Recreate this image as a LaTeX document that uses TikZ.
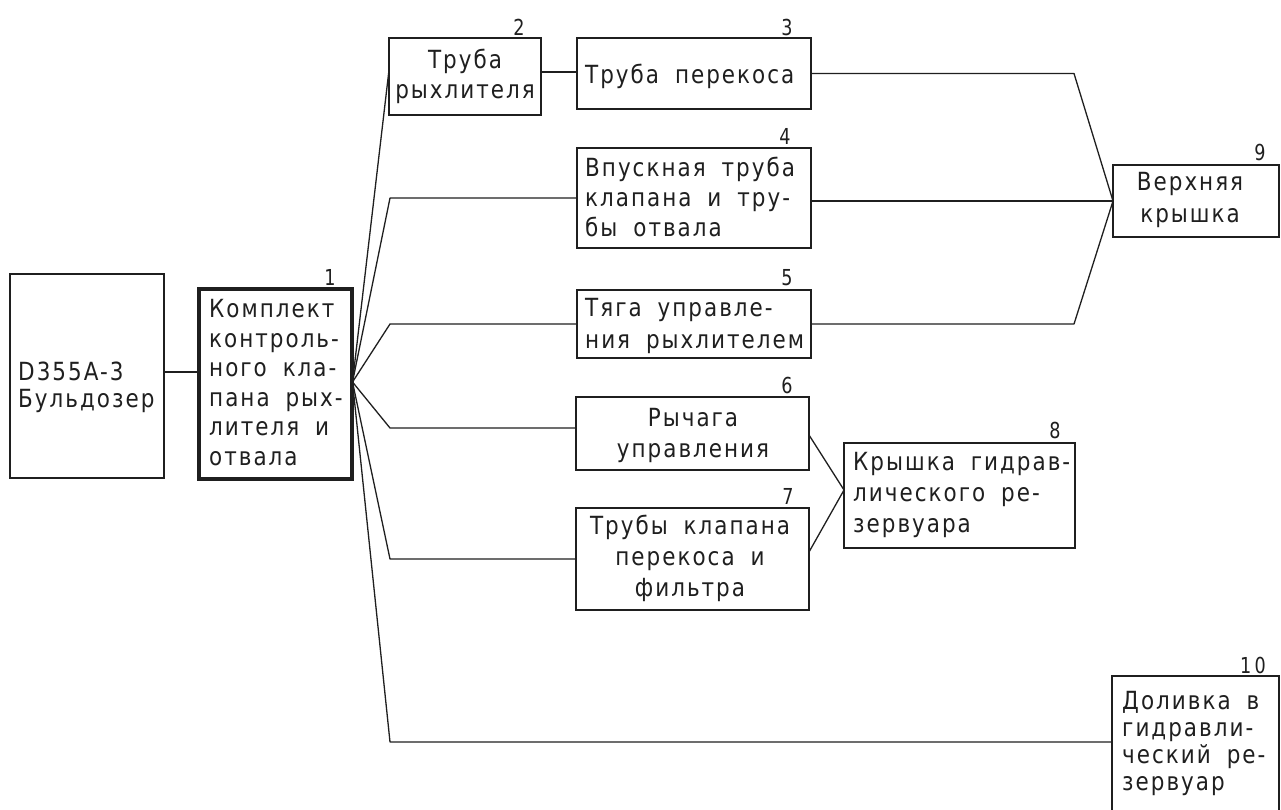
\documentclass[tikz,border=0pt]{standalone}
\usepackage{fontspec}
\setmainfont{DejaVu Sans}[FakeStretch=0.86,LetterSpace=8,WordSpace=1.8]
\newfontfamily\numfont{DejaVu Sans}[FakeStretch=0.8,LetterSpace=15]
\definecolor{ink}{gray}{0.12}
\begin{document}
\begin{tikzpicture}[x=1pt,y=-1pt,
  box/.style={draw=ink,line width=1.8pt,inner sep=0pt,outer sep=0pt},
  thickbox/.style={box,line width=3.2pt},
  conn/.style={draw=ink,line width=1.3pt,line join=round},
  txt/.style={inner sep=0pt,text=ink},
  num/.style={inner sep=0pt,text=ink,font=\numfont\fontsize{22}{22}\selectfont}]
\useasboundingbox (0,0) rectangle (1281,809);
\clip (0,0) rectangle (1281,809);
\fill[white] (0,0) rectangle (1281,809);

% boxes
\node[box,minimum width=154pt,minimum height=204pt] (b0) at (87,376) {};
\node[thickbox,minimum width=153pt,minimum height=190pt] (b1) at (275.5,384) {};
\node[box,minimum width=152pt,minimum height=77pt] (b2) at (465,76.5) {};
\node[box,minimum width=234pt,minimum height=71pt] (b3) at (694,73.5) {};
\node[box,minimum width=234pt,minimum height=100pt] (b4) at (694,198) {};
\node[box,minimum width=234pt,minimum height=68pt] (b5) at (694,324) {};
\node[box,minimum width=233pt,minimum height=73pt] (b6) at (692.5,433.5) {};
\node[box,minimum width=233pt,minimum height=102pt] (b7) at (692.5,559) {};
\node[box,minimum width=231pt,minimum height=105pt] (b8) at (959.5,495.5) {};
\node[box,minimum width=166pt,minimum height=72pt] (b9) at (1196,201) {};
\node[box,minimum width=167pt,minimum height=154pt] (b10) at (1195.5,753) {};

% texts
\node[txt,anchor=north west,align=left,font=\fontsize{25}{27}\selectfont] (t0) at (18,362) {D355A-3\\Бульдозер};
\node[txt,anchor=north west,align=left,font=\fontsize{25}{29.6}\selectfont] (t1) at (209,299) {Комплект\\контроль-\\ного кла-\\пана рых-\\лителя и\\отвала};
\node[txt,anchor=north,align=center,font=\fontsize{25}{30}\selectfont] (t2) at (465,49) {Труба\\рыхлителя};
\node[txt,anchor=north west,align=left,font=\fontsize{25}{30}\selectfont] (t3) at (585,64) {Труба перекоса};
\node[txt,anchor=north west,align=left,font=\fontsize{25}{30}\selectfont] (t4) at (585,157) {Впускная труба\\клапана и тру-\\бы отвала};
\node[txt,anchor=north west,align=left,font=\fontsize{25}{32}\selectfont] (t5) at (585,298) {Тяга управле-\\ния рыхлителем};
\node[txt,anchor=north,align=center,font=\fontsize{25}{31}\selectfont] (t6) at (693,408) {Рычага\\управления};
\node[txt,anchor=north,align=center,font=\fontsize{25}{31}\selectfont] (t7) at (690,515) {Трубы клапана\\перекоса и\\фильтра};
\node[txt,anchor=north west,align=left,font=\fontsize{25}{31}\selectfont] (t8) at (853,452) {Крышка гидрав-\\лического ре-\\зервуара};
\node[txt,anchor=north,align=center,font=\fontsize{25}{32}\selectfont] (t9) at (1190,172) {Верхняя\\крышка};
\node[txt,anchor=north west,align=left,font=\fontsize{25}{27}\selectfont] (t10) at (1122,691) {Доливка в\\гидравли-\\ческий ре-\\зервуар};

% numbers
\node[num] (n1) at (330,277) {1};
\node[num] (n2) at (519,27) {2};
\node[num] (n3) at (787,27) {3};
\node[num] (n4) at (785,136) {4};
\node[num] (n5) at (787,278) {5};
\node[num] (n6) at (787,385) {6};
\node[num] (n7) at (788,496) {7};
\node[num] (n8) at (1055,430) {8};
\node[num] (n9) at (1260,152) {9};
\node[num] (n10) at (1253,665) {10};

% junctions
\coordinate (F) at ([xshift=0.5pt,yshift=2pt]b1.east);
\coordinate (ex) at (390,0);
\coordinate (ex9) at (1074,0);
\coordinate (J8) at ([yshift=5.5pt]b8.west);

% connectors
\draw[conn] ([yshift=4pt]b0.east) -- ([yshift=4pt]b0.east -| b1.west);
\draw[conn] (F) -- ([yshift=6.5pt]b2.west);
\draw[conn] (F) -- (ex |- b4.west) -- (b4.west);
\draw[conn] (F) -- (ex |- b5.west) -- (b5.west);
\draw[conn] (F) -- ([yshift=5.5pt]ex |- b6.west) -- ([yshift=5.5pt]b6.west);
\draw[conn] (F) -- (ex |- b7.west) -- (b7.west);
\draw[conn] (F) -- ([yshift=11pt]ex |- b10.west) -- ([yshift=11pt]b10.west);
\draw[conn] ([yshift=4.5pt]b2.east) -- ([yshift=4.5pt]b2.east -| b3.west);
\draw[conn] (b3.east) -- (ex9 |- b3.east) -- (b9.west);
\draw[conn] (b9.west -| b4.east) -- (b9.west);
\draw[conn] (b5.east) -- (ex9 |- b5.east) -- (b9.west);
\draw[conn] ([yshift=-1.5pt]b6.east) -- (J8);
\draw[conn] ([yshift=7pt]b7.east) -- (J8);
\end{tikzpicture}
\end{document}
